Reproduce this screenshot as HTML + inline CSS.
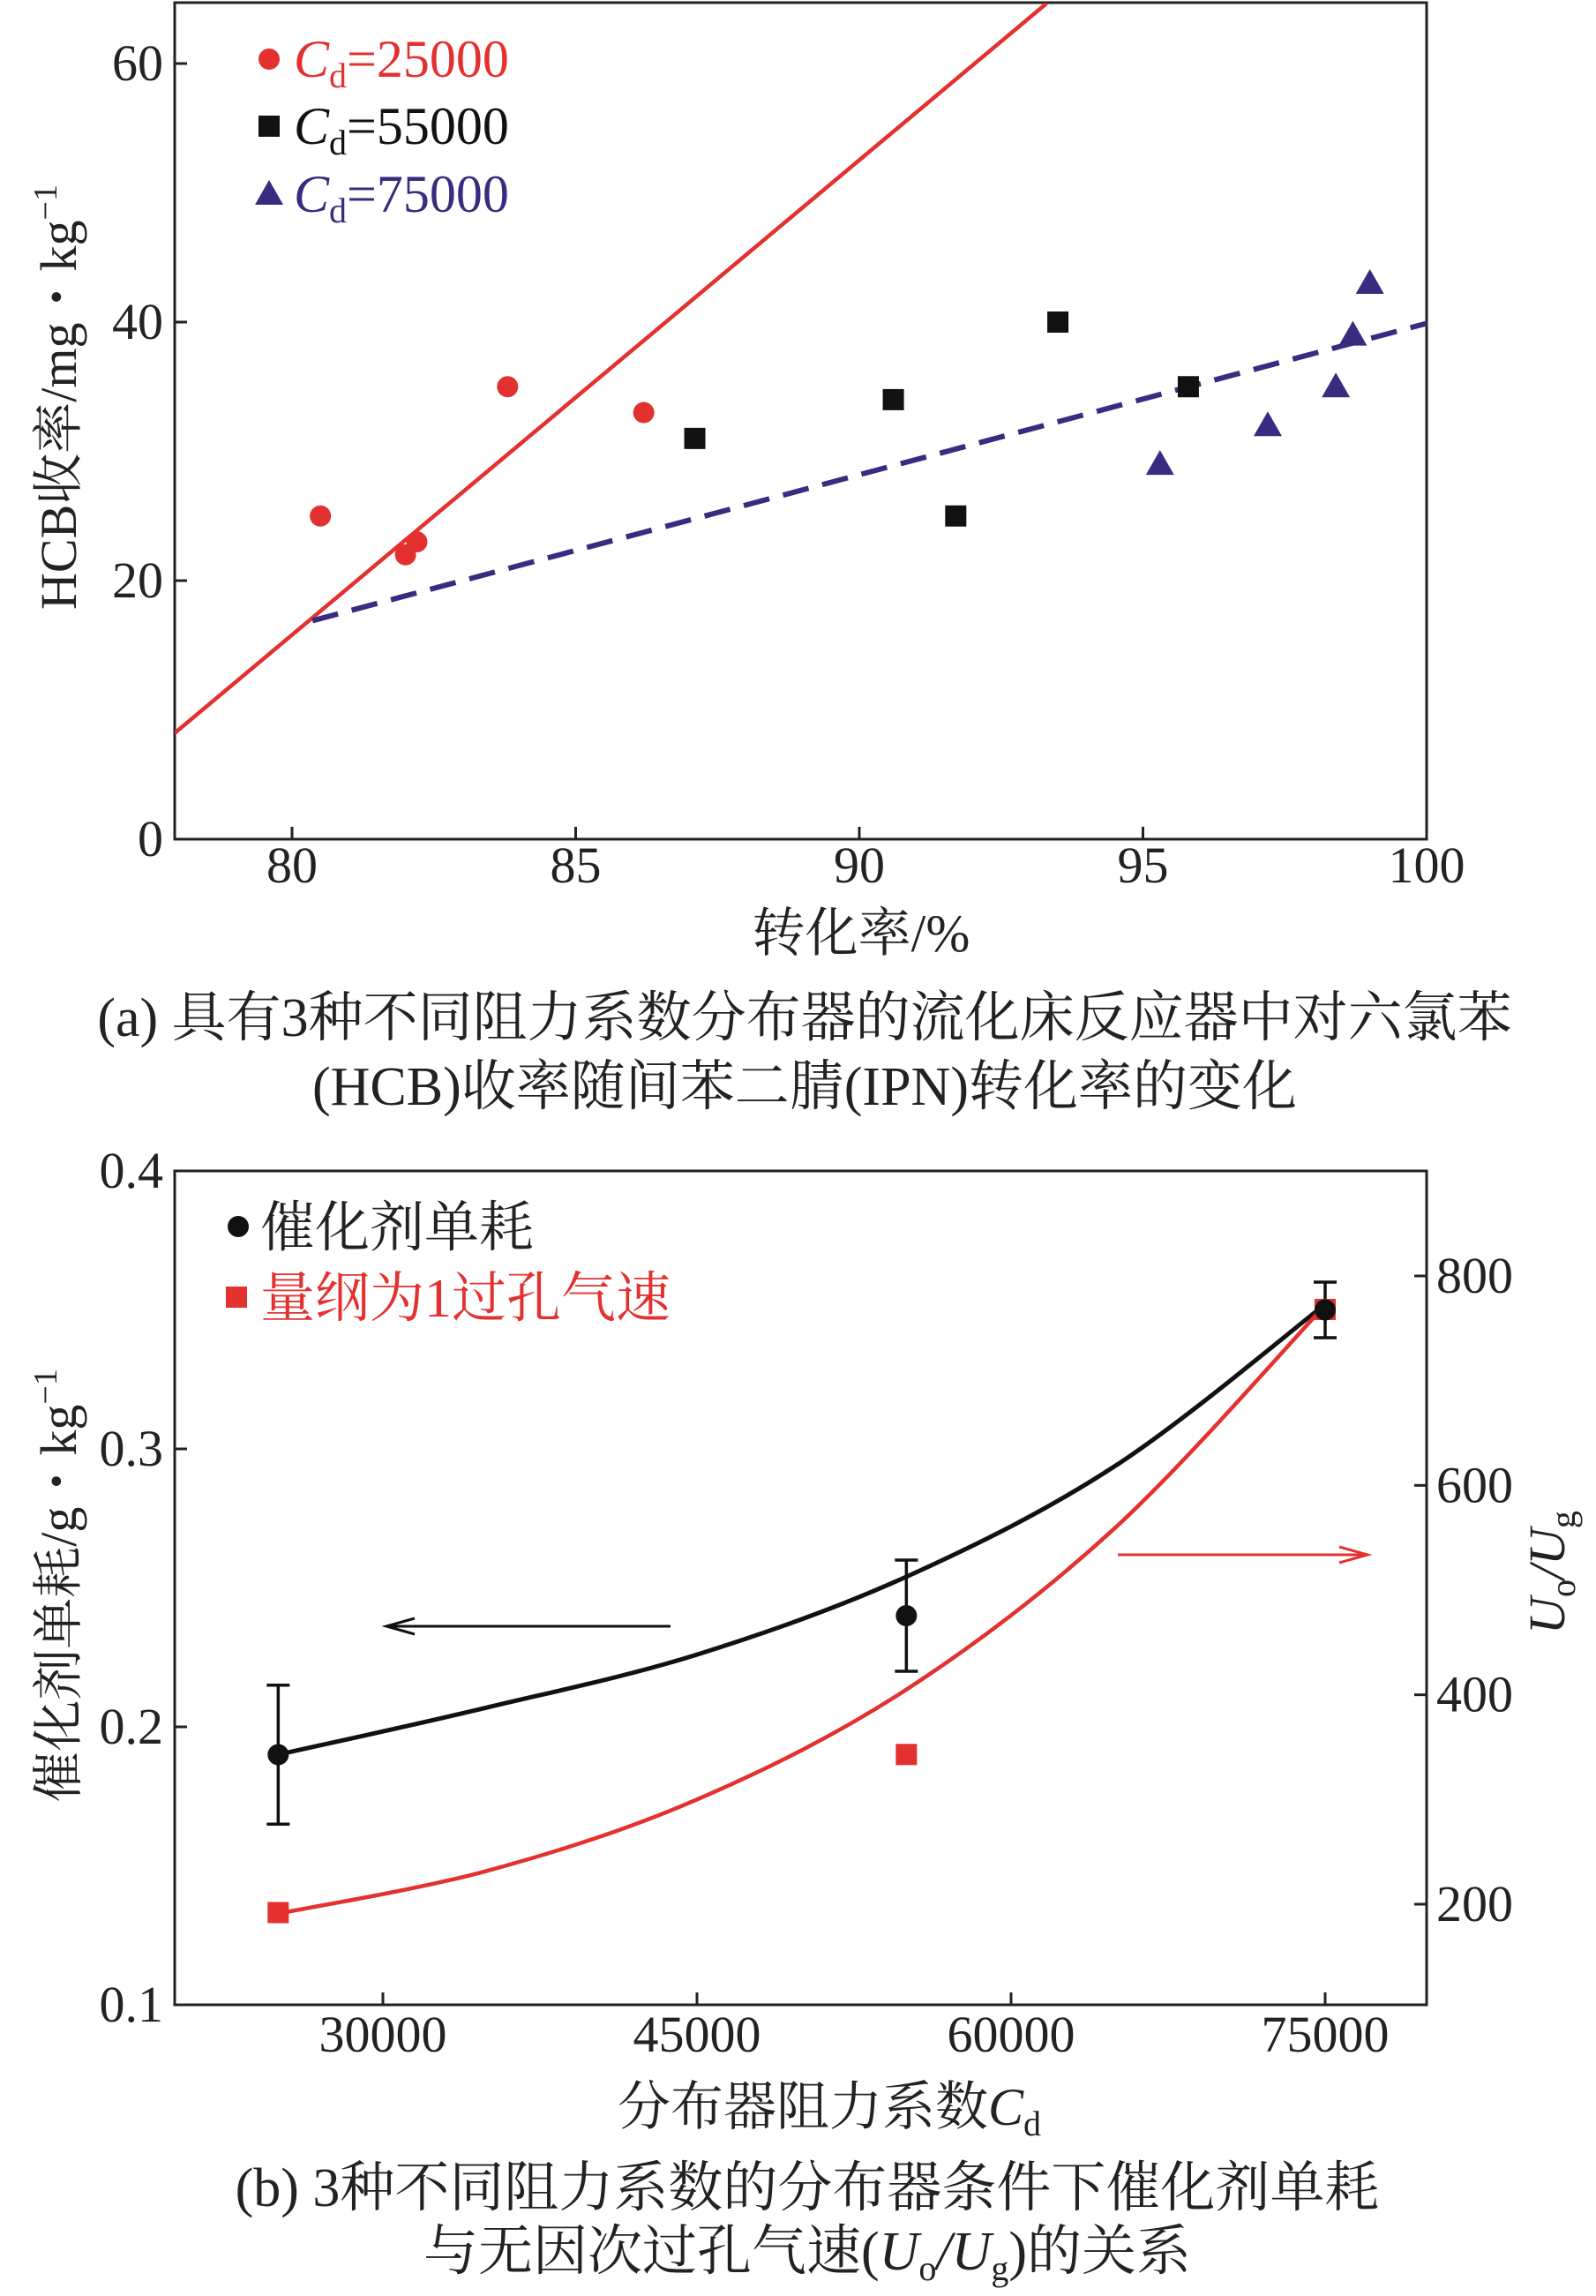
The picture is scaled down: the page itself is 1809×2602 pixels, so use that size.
<!DOCTYPE html>
<html><head><meta charset="utf-8"><style>
html,body{margin:0;padding:0;background:#fff}
svg{display:block}
text{font-family:"Liberation Serif","Noto Serif CJK SC",serif;fill:#222}
</style></head><body>
<svg id="fig" width="1809" height="2602" viewBox="0 0 1809 2602" xmlns="http://www.w3.org/2000/svg">
<g id="ga"></g>
<g id="gb"></g>
</svg>
<script>
// ---- Chart (a) data ----
const aXTicks = [80, 85, 90, 95, 100];
const aYTicks = [0, 20, 40, 60];
const redX = [80.5, 82.0, 82.2, 83.8, 86.2];
const redY = [25, 22, 23, 35, 33];
const blackX = [87.1, 90.6, 91.7, 93.5, 95.8];
const blackY = [31, 34, 25, 40, 35];
const blueX = [95.3, 97.2, 98.4, 98.7, 99.0];
const blueY = [29, 32, 35, 39, 43];
const redLineX = [77.93, 93.3];
const redLineY = [8.2, 64.65];
const dashLineX = [80.36, 100];
const dashLineY = [16.9, 39.9];
// ---- Chart (b) data ----
const bXTicks = [30000, 45000, 60000, 75000];
const bYTicks = [0.1, 0.2, 0.3, 0.4];
const bY2Ticks = [200, 400, 600, 800];
const cdX = [25000, 55000, 75000];
const consumption = [0.19, 0.24, 0.35];
const errLow = [0.165, 0.22, 0.34];
const errHigh = [0.215, 0.26, 0.36];
const velocity = [192, 343, 768];
const curveX = [25000, 35000, 45000, 55000, 65000, 75000];
const blackCurve = [0.19, 0.207, 0.226, 0.254, 0.294, 0.352];
const redCurve = [191, 232, 300, 405, 560, 772];

const NS = "http://www.w3.org/2000/svg";
function mk(parent, tag, attrs, txt){
  const e = document.createElementNS(NS, tag);
  for (const k in attrs) e.setAttribute(k, attrs[k]);
  if (txt !== undefined) e.textContent = txt;
  parent.appendChild(e); return e;
}
const RED = "#e3312f", BLUE = "#3b2b80", BLK = "#111";

// ===== Chart A =====
const ga = document.getElementById('ga');
const aL=198, aR=1617, aT=3, aB=951;
const ax = v => 331 + (v-80)*(1617-331)/20;
const ay = v => 951 - v*(951-72)/60;
let clip = mk(ga,'clipPath',{id:'clipA'}); mk(clip,'rect',{x:aL,y:aT,width:aR-aL,height:aB-aT});
let fr = mk(ga,'rect',{x:aL,y:aT,width:aR-aL,height:aB-aT,fill:'none',stroke:'#222','stroke-width':3});
 
aXTicks.forEach(v=>{
  let t = mk(ga,'line',{x1:ax(v),x2:ax(v),y1:aB,y2:aB-14,stroke:'#222','stroke-width':3});
   
  let l = mk(ga,'text',{x:ax(v),y:1000,'font-size':58,'text-anchor':'middle'},String(v));
   
});
aYTicks.forEach(v=>{
  let t = mk(ga,'line',{x1:aL,x2:aL+14,y1:ay(v),y2:ay(v),stroke:'#222','stroke-width':3});
   
  let l = mk(ga,'text',{x:185,y:ay(v)+19,'font-size':58,'text-anchor':'end'},String(v));
   
});
let rl = mk(ga,'line',{x1:ax(redLineX[0]),y1:ay(redLineY[0]),x2:ax(redLineX[1]),y2:ay(redLineY[1]),stroke:RED,'stroke-width':4.5,'clip-path':'url(#clipA)'});
 
let dl = mk(ga,'line',{x1:ax(dashLineX[0]),y1:ay(dashLineY[0]),x2:ax(dashLineX[1]),y2:ay(dashLineY[1]),stroke:BLUE,'stroke-width':6,'stroke-dasharray':'30 16','clip-path':'url(#clipA)'});
 
redX.forEach((v,i)=>{
  let c = mk(ga,'circle',{cx:ax(v),cy:ay(redY[i]),r:12,fill:RED});
   
});
blackX.forEach((v,i)=>{
  let c = mk(ga,'rect',{x:ax(v)-12,y:ay(blackY[i])-12,width:24,height:24,fill:BLK});
   
});
blueX.forEach((v,i)=>{
  const x=ax(v), y=ay(blueY[i]);
  let c = mk(ga,'polygon',{points:`${x},${y-16} ${x-16},${y+12} ${x+16},${y+12}`,fill:BLUE});
   
});
const legA = [[RED,'25000',67,'circle'],[BLK,'55000',143,'square'],[BLUE,'75000',220,'tri']];
legA.forEach(([col,val,y,shape])=>{
  let m;
  if(shape==='circle') m = mk(ga,'circle',{cx:305,cy:y,r:12,fill:col});
  else if(shape==='square') m = mk(ga,'rect',{x:293,y:y-12,width:24,height:24,fill:col});
  else m = mk(ga,'polygon',{points:`305,${y-16} 289,${y+12} 321,${y+12}`,fill:col});
   
  let t = mk(ga,'text',{x:333,y:y+20,'font-size':60,style:`fill:${col}`});
  t.innerHTML = `<tspan font-style="italic" style="fill:${col}">C</tspan><tspan font-size="40" dy="12" style="fill:${col}">d</tspan><tspan dy="-12" style="fill:${col}">=${val}</tspan>`;
   
});
let yta = mk(ga,'text',{x:0,y:0,'font-size':58,'text-anchor':'middle',transform:'translate(86,450) rotate(-90)'});
yta.innerHTML = 'HCB收率/mg・kg<tspan font-size="38" dy="-22">−1</tspan>';
 
let xta = mk(ga,'text',{x:976,y:1078,'font-size':60,'text-anchor':'middle'},'转化率/%');
 
let ca1 = mk(ga,'text',{x:912,y:1174,'font-size':62,'text-anchor':'middle'},'(a) 具有3种不同阻力系数分布器的流化床反应器中对六氯苯');
 
let ca2 = mk(ga,'text',{x:912,y:1252,'font-size':62,'text-anchor':'middle'},'(HCB)收率随间苯二腈(IPN)转化率的变化');
 

// ===== Chart B =====
const gb = document.getElementById('gb');
const bL=198, bR=1617, bT=1327, bB=2272;
const bx = v => 434 + (v-30000)*(1502-434)/45000;
const by = v => bB - (v-0.1)*(bB-bT)/0.3;
const by2 = v => 2158 - (v-200)*(2158-1446)/600;
let frb = mk(gb,'rect',{x:bL,y:bT,width:bR-bL,height:bB-bT,fill:'none',stroke:'#222','stroke-width':3});
 
bXTicks.forEach(v=>{
  let t = mk(gb,'line',{x1:bx(v),x2:bx(v),y1:bB,y2:bB-14,stroke:'#222','stroke-width':3});
   
  let l = mk(gb,'text',{x:bx(v),y:2325,'font-size':58,'text-anchor':'middle'},String(v));
   
});
bYTicks.forEach(v=>{
  let t = mk(gb,'line',{x1:bL,x2:bL+14,y1:by(v),y2:by(v),stroke:'#222','stroke-width':3});
   
  let l = mk(gb,'text',{x:185,y:by(v)+19,'font-size':58,'text-anchor':'end'},v.toFixed(1));
   
});
bY2Ticks.forEach(v=>{
  let t = mk(gb,'line',{x1:bR-14,x2:bR,y1:by2(v),y2:by2(v),stroke:'#222','stroke-width':3});
   
  let l = mk(gb,'text',{x:1628,y:by2(v)+19,'font-size':58,'text-anchor':'start'},String(v));
   
});
function smooth(pts){
  let d = `M${pts[0][0]},${pts[0][1]}`;
  for(let i=0;i<pts.length-1;i++){
    const p0=pts[i-1]||pts[i], p1=pts[i], p2=pts[i+1], p3=pts[i+2]||p2;
    const c1=[p1[0]+(p2[0]-p0[0])/6, p1[1]+(p2[1]-p0[1])/6];
    const c2=[p2[0]-(p3[0]-p1[0])/6, p2[1]-(p3[1]-p1[1])/6];
    d += ` C${c1[0]},${c1[1]} ${c2[0]},${c2[1]} ${p2[0]},${p2[1]}`;
  }
  return d;
}
let bc = mk(gb,'path',{d:smooth(curveX.map((v,i)=>[bx(v),by(blackCurve[i])])),fill:'none',stroke:BLK,'stroke-width':5});
 
let rc = mk(gb,'path',{d:smooth(curveX.map((v,i)=>[bx(v),by2(redCurve[i])])),fill:'none',stroke:RED,'stroke-width':4.5});
 
cdX.forEach((v,i)=>{
  const x=bx(v);
  let e = mk(gb,'path',{d:`M${x},${by(errLow[i])}V${by(errHigh[i])}M${x-13},${by(errLow[i])}H${x+13}M${x-13},${by(errHigh[i])}H${x+13}`,stroke:BLK,'stroke-width':3.5,fill:'none'});
   
  let s = mk(gb,'rect',{x:x-12,y:by2(velocity[i])-12,width:24,height:24,fill:RED});
   
  let c = mk(gb,'circle',{cx:x,cy:by(consumption[i]),r:12,fill:BLK});
   
});
let a1 = mk(gb,'path',{d:'M760,1843H440M470,1834L438,1843L470,1852',stroke:BLK,'stroke-width':3,fill:'none'});
 
let a2 = mk(gb,'path',{d:'M1267,1762H1548M1518,1753L1550,1762L1518,1771',stroke:RED,'stroke-width':3,fill:'none'});
 
let lm1 = mk(gb,'circle',{cx:270,cy:1390,r:12,fill:BLK});
 
let lt1 = mk(gb,'text',{x:295,y:1412,'font-size':62},'催化剂单耗');
 
let lm2 = mk(gb,'rect',{x:256,y:1458,width:24,height:24,fill:RED});
 
let lt2 = mk(gb,'text',{x:295,y:1492,'font-size':62,style:`fill:${RED}`},'量纲为1过孔气速');
 
let ytb = mk(gb,'text',{x:0,y:0,'font-size':58,'text-anchor':'middle',transform:'translate(86,1797) rotate(-90)'});
ytb.innerHTML = '催化剂单耗/g・kg<tspan font-size="38" dy="-22">−1</tspan>';
 
let y2t = mk(gb,'text',{x:0,y:0,'font-size':58,'text-anchor':'middle',transform:'translate(1773,1782) rotate(-90)'});
y2t.innerHTML = '<tspan font-style="italic">U</tspan><tspan font-size="40" dy="12">o</tspan><tspan dy="-12" font-style="italic">/U</tspan><tspan font-size="40" dy="12">g</tspan>';
 
let xtb = mk(gb,'text',{x:940,y:2408,'font-size':60,'text-anchor':'middle'});
xtb.innerHTML = '分布器阻力系数<tspan font-style="italic">C</tspan><tspan font-size="40" dy="12">d</tspan>';
 
let cb1 = mk(gb,'text',{x:915,y:2500,'font-size':62,'text-anchor':'middle'},'(b) 3种不同阻力系数的分布器条件下催化剂单耗');
 
let cb2 = mk(gb,'text',{x:915,y:2572,'font-size':62,'text-anchor':'middle'});
cb2.innerHTML = '与无因次过孔气速(<tspan font-style="italic">U</tspan><tspan font-size="40" dy="12">o</tspan><tspan dy="-12" font-style="italic">/U</tspan><tspan font-size="40" dy="12">g</tspan><tspan dy="-12">)的关系</tspan>';
 
</script>
</body></html>
